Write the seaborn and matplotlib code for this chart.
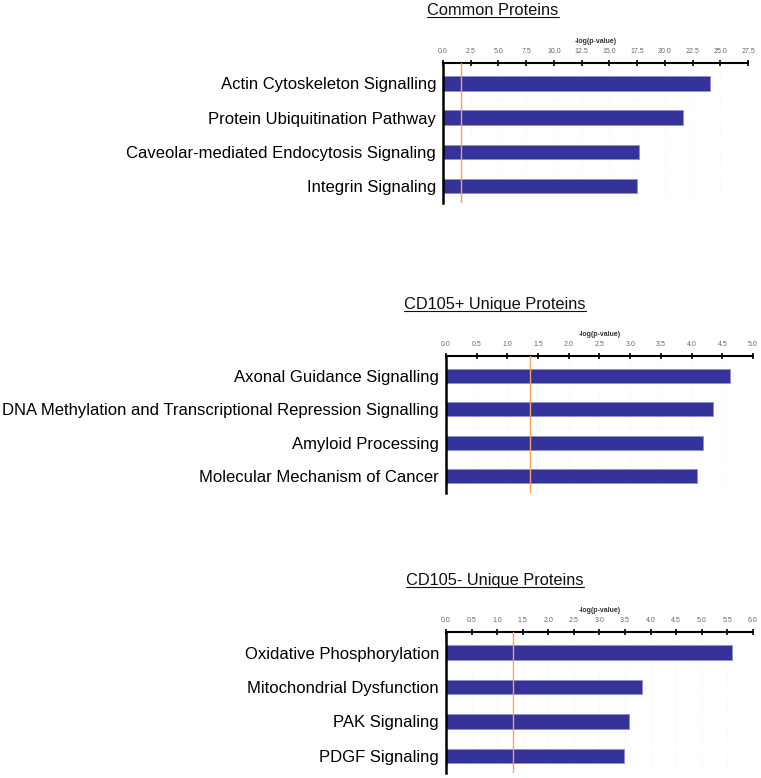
import numpy as np
import pandas as pd
import matplotlib
matplotlib.use("Agg")
import matplotlib.pyplot as plt
from matplotlib.lines import Line2D
import seaborn as sns

# values (-log(p-value))
titles = ["Common Proteins", "CD105+ Unique Proteins", "CD105- Unique Proteins"]

common_paths = ["Actin Cytoskeleton Signalling", "Protein Ubiquitination Pathway",
                "Caveolar-mediated Endocytosis Signaling", "Integrin Signaling"]
common_vals = [24.1, 21.6, 17.7, 17.5]

pos_paths = ["Axonal Guidance Signalling",
             "DNA Methylation and Transcriptional Repression Signalling",
             "Amyloid Processing", "Molecular Mechanism of Cancer"]
pos_vals = [4.62, 4.35, 4.18, 4.09]

neg_paths = ["Oxidative Phosphorylation", "Mitochondrial Dysfunction",
             "PAK Signaling", "PDGF Signaling"]
neg_vals = [5.59, 3.83, 3.58, 3.48]

thresholds = [1.6, 1.37, 1.31]
x_max = [27.5, 5.0, 6.0]
x_step = [2.5, 0.5, 0.5]

sns.set_style("white")
plt.rcParams['font.family'] = ['Liberation Sans', 'DejaVu Sans']

W, H = 761, 778
fig = plt.figure(figsize=(W / 100, H / 100), dpi=100)

# axes boxes in pixels: left, top, right, bottom
boxes = [(443, 63, 748, 203), (446, 356, 753, 493), (446, 632, 753, 773)]
title_pos = [(493, 15), (495, 309), (495, 585)]

panels = [(common_paths, common_vals), (pos_paths, pos_vals), (neg_paths, neg_vals)]

bar_color = "#333399"
texts = []
for i, (paths, vals) in enumerate(panels):
    l, t, r, b = boxes[i]
    ax = fig.add_axes([l / W, 1 - b / H, (r - l) / W, (b - t) / H])
    df = pd.DataFrame({"pathway": paths, "score": vals})
    sns.barplot(data=df, x="score", y="pathway", ax=ax, color=bar_color,
                width=0.42, edgecolor="#8f8fcf", linewidth=0.6, saturation=1)
    ax.axvline(thresholds[i], color="#f5a25d", lw=1.0, zorder=3)
    ax.set_xlim(0, x_max[i])
    ax.set_ylim(3.5, -0.6)
    ticks = np.arange(0, x_max[i] + 1e-9, x_step[i])
    ax.set_xticks(ticks)
    ax.set_xticklabels([f"{v:.1f}" for v in ticks])
    ax.xaxis.tick_top()
    ax.xaxis.set_label_position("top")
    ax.set_xlabel("-log(p-value)", fontsize=5, color="#333333", fontweight="bold", labelpad=4)
    ax.set_ylabel("")
    ax.tick_params(axis="x", direction="inout", length=5, width=1.2, color="black",
                   labelsize=5, labelcolor="#666666", pad=3)
    ax.tick_params(axis="y", length=0, labelsize=12, pad=5, labelcolor="black")
    for s in ["right", "bottom"]:
        ax.spines[s].set_visible(False)
    ax.spines["top"].set_linewidth(1.5)
    ax.spines["left"].set_linewidth(1.8)
    ax.spines["top"].set_color("black")
    ax.spines["left"].set_color("black")
    ax.grid(axis="x", color="#f6f6f6", linestyle=":", linewidth=0.8)
    ax.set_axisbelow(True)

    tx, ty = title_pos[i]
    texts.append(fig.text(tx / W, 1 - ty / H, titles[i], ha="center", va="baseline",
                          fontsize=11.8, color="#111111"))

# underline the titles
fig.canvas.draw()
renderer = fig.canvas.get_renderer()
for i, txt in enumerate(texts):
    bb = txt.get_window_extent(renderer).transformed(fig.transFigure.inverted())
    yb = 1 - (title_pos[i][1] + 2) / H
    fig.add_artist(Line2D([bb.x0, bb.x1], [yb, yb], transform=fig.transFigure,
                          color="#111111", lw=0.8))

fig.savefig("out.png", dpi=100)
